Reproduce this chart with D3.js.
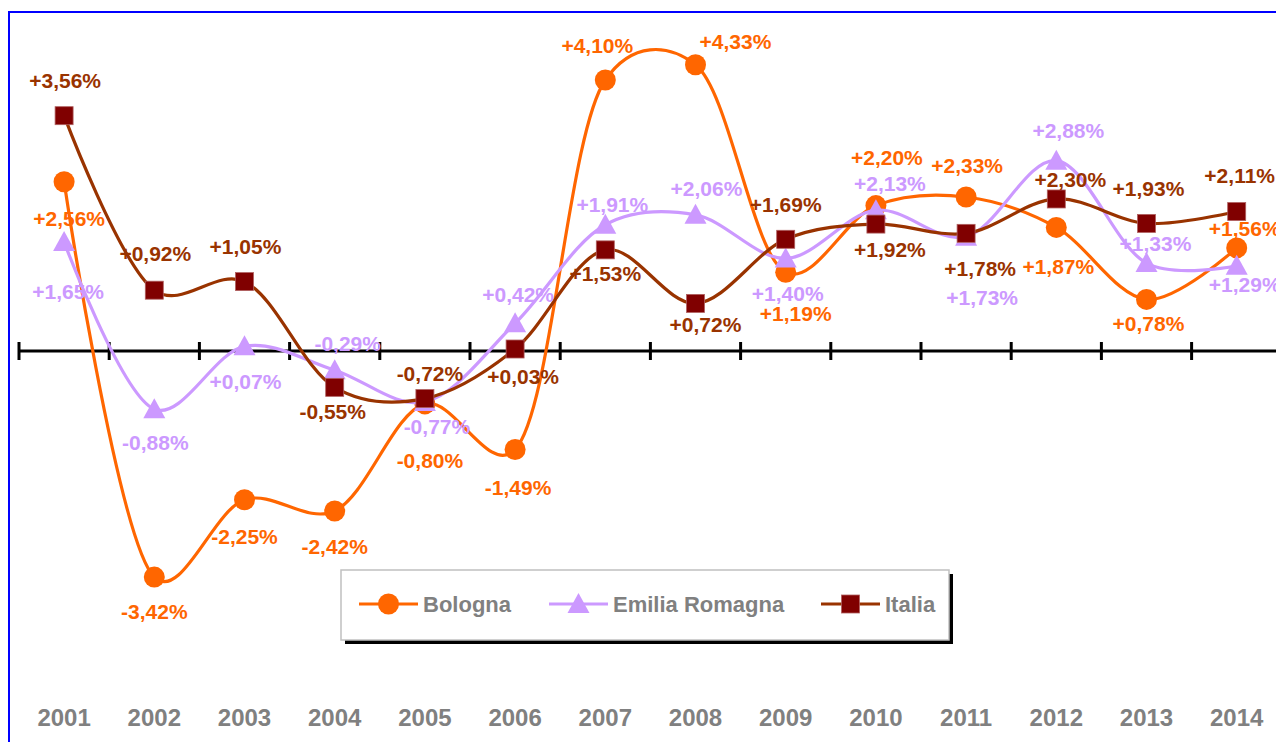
<!DOCTYPE html>
<html>
<head>
<meta charset="utf-8">
<script src="https://cdn.jsdelivr.net/npm/d3@7"></script>
<style>
  html, body { margin: 0; padding: 0; background: #fff; }
  svg { display: block; font-family: "Liberation Sans", Arial, sans-serif; }
</style>
</head>
<body>
<svg id="chart" width="1276" height="742"></svg>
<script>
// values (percent change)
var years = ["2001","2002","2003","2004","2005","2006","2007","2008","2009","2010","2011","2012","2013","2014"];
var bologna = [2.56, -3.42, -2.25, -2.42, -0.80, -1.49, 4.10, 4.33, 1.19, 2.20, 2.33, 1.87, 0.78, 1.56];
var emilia  = [1.65, -0.88, 0.07, -0.29, -0.77, 0.42, 1.91, 2.06, 1.40, 2.13, 1.73, 2.88, 1.33, 1.29];
var italia  = [3.56, 0.92, 1.05, -0.55, -0.72, 0.03, 1.53, 0.72, 1.69, 1.92, 1.78, 2.30, 1.93, 2.11];
var seriesNames = ["Bologna", "Emilia Romagna", "Italia"];

// label placement (offset from marker, px)
var bolognaLab = [[5,37],[0,34],[0,37],[0,36],[5,57],[3,38],[-8,-34],[40,-23],[10,41],[11,-48],[1,-31],[2,39],[2,24],[8,-19]];
var emiliaLab  = [[4,50],[1,33],[1,35],[13,-27],[12,25],[3,-29],[7,-20],[11,-26],[2,35],[14,-27],[16,61],[12,-30],[9,-20],[8,19]];
var italiaLab  = [[1,-35],[1,-37],[1,-35],[-2,24],[5,-25],[8,27],[0,24],[10,21],[0,-35],[14,25],[14,35],[14,-19],[2,-35],[3,-36]];

var svg = d3.select("#chart");

var x = d3.scaleBand().domain(years).range([19, 19 + 14 * 90.2]);
var y = d3.scaleLinear().domain([-5, 5]).range([351 + 5 * 66.1, 351 - 5 * 66.1]);
var cx = function(i) { return x(years[i]) + x.bandwidth() / 2; };

function fmt(v) {
  return (v > 0 ? "+" : v < 0 ? "-" : "+") + Math.abs(v).toFixed(2).replace(".", ",") + "%";
}

// frame (blue border, left and top)
svg.append("path")
  .attr("d", "M9,742 L9,12 L1276,12")
  .attr("fill", "none").attr("stroke", "#0000ff").attr("stroke-width", 2);

// category axis at zero with ticks between categories
var axis = svg.append("g");
axis.append("line")
  .attr("x1", 19).attr("x2", 1276).attr("y1", y(0)).attr("y2", y(0))
  .attr("stroke", "#000").attr("stroke-width", 3);
axis.selectAll("line.tick").data(years).enter().append("line")
  .attr("class", "tick")
  .attr("x1", function(d) { return x(d); }).attr("x2", function(d) { return x(d); })
  .attr("y1", y(0) - 9).attr("y2", y(0) + 9)
  .attr("stroke", "#000").attr("stroke-width", 3);

// year labels along the bottom
svg.selectAll("text.year").data(years).enter().append("text")
  .attr("class", "year")
  .attr("x", function(d) { return x(d) + x.bandwidth() / 2; })
  .attr("y", 726)
  .attr("text-anchor", "middle")
  .attr("font-size", 24).attr("font-weight", "bold")
  .attr("fill", "#808080")
  .text(function(d) { return d; });

var series = [
  { name: "Bologna", values: bologna, lab: bolognaLab, line: "#ff6600", fill: "#ff6600", text: "#ff6600", shape: "circle" },
  { name: "Emilia Romagna", values: emilia, lab: emiliaLab, line: "#cc99ff", fill: "#cc99ff", text: "#cc99ff", shape: "triangle" },
  { name: "Italia", values: italia, lab: italiaLab, line: "#993300", fill: "#800000", text: "#993300", shape: "square" }
];

var line = d3.line()
  .x(function(d, i) { return cx(i); })
  .y(function(d) { return y(d); })
  .curve(d3.curveCatmullRom.alpha(0.25));

function drawMarker(g, shape, color, px, py) {
  if (shape === "circle") {
    g.append("circle").attr("cx", px).attr("cy", py).attr("r", 10.5).attr("fill", color);
  } else if (shape === "triangle") {
    g.append("path")
      .attr("d", "M" + px + "," + (py - 11) + " L" + (px + 11) + "," + (py + 9) + " L" + (px - 11) + "," + (py + 9) + " Z")
      .attr("fill", color);
  } else {
    g.append("rect").attr("x", px - 9).attr("y", py - 9).attr("width", 18).attr("height", 18)
      .attr("fill", color).attr("stroke", "#b06060").attr("stroke-width", 0.8);
  }
}

series.forEach(function(s) {
  var g = svg.append("g");
  g.append("path")
    .attr("d", line(s.values))
    .attr("fill", "none").attr("stroke", s.line).attr("stroke-width", 3.2)
    .attr("stroke-linejoin", "round");
  s.values.forEach(function(v, i) {
    drawMarker(g, s.shape, s.fill, cx(i), y(v));
  });
});

// data labels on top
series.forEach(function(s) {
  svg.append("g").selectAll("text").data(s.values).enter().append("text")
    .attr("x", function(d, i) { return cx(i) + s.lab[i][0]; })
    .attr("y", function(d, i) { return y(d) + s.lab[i][1]; })
    .attr("text-anchor", "middle")
    .attr("dominant-baseline", "central")
    .attr("font-size", 21).attr("font-weight", "bold")
    .attr("fill", s.text)
    .text(function(d) { return fmt(d); });
});

// legend
var leg = svg.append("g");
leg.append("rect").attr("x", 345).attr("y", 574).attr("width", 608).attr("height", 70).attr("fill", "#000");
leg.append("rect").attr("x", 341).attr("y", 570).attr("width", 608).attr("height", 70)
  .attr("fill", "#fff").attr("stroke", "#c0c0c0").attr("stroke-width", 1.5);
var legX = [359, 549, 821];
series.forEach(function(s, k) {
  var lx = legX[k], ly = 604;
  leg.append("line").attr("x1", lx).attr("x2", lx + 59).attr("y1", ly).attr("y2", ly)
    .attr("stroke", s.line).attr("stroke-width", 3.2);
  drawMarker(leg, s.shape, s.fill, lx + 29.5, ly);
  leg.append("text")
    .attr("x", lx + 64).attr("y", ly)
    .attr("dominant-baseline", "central")
    .attr("font-size", 22).attr("font-weight", "bold")
    .attr("fill", "#808080")
    .text(seriesNames[k]);
});
</script>
</body>
</html>
